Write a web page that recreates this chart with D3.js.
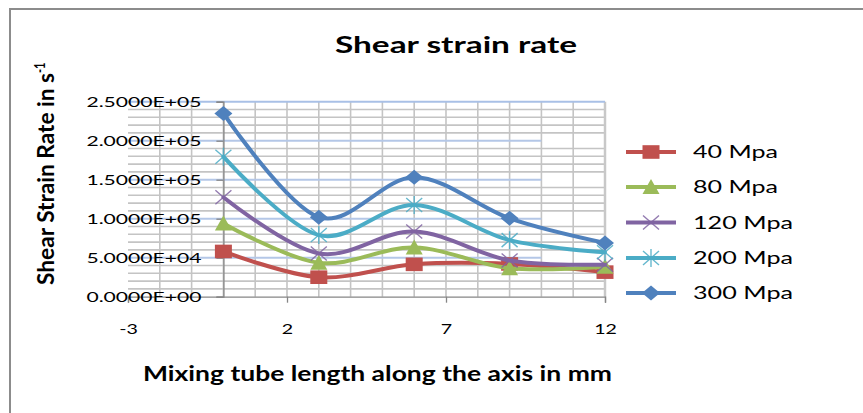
<!DOCTYPE html>
<html>
<head>
<meta charset="utf-8">
<script src="https://cdn.jsdelivr.net/npm/d3@7"></script>
<style>
  html, body { margin: 0; padding: 0; background: #fff; }
  svg { display: block; }
  text { font-family: Lato, "Open Sans", sans-serif; fill: #000; }
</style>
</head>
<body>
<svg id="chart" width="863" height="413"></svg>
<script>
// ---- data ----
const xPositions = [0, 3, 6, 9, 12];
const seriesNames = ["40 Mpa", "80 Mpa", "120 Mpa", "200 Mpa", "300 Mpa"];
const s40  = [58000, 25000, 41500, 42000, 31500];
const s80  = [94000, 43500, 63000, 36500, 38500];
const s120 = [127500, 55500, 83500, 46500, 41000];
const s200 = [179500, 79000, 117500, 72500, 57000];
const s300 = [235000, 102000, 153000, 100500, 69000];
const xTicks = [-3, 2, 7, 12];
const yTicks = [0, 50000, 100000, 150000, 200000, 250000];
const yTickLabels = ["0.0000E+00", "5.0000E+04", "1.0000E+05", "1.5000E+05", "2.0000E+05", "2.5000E+05"];

const seriesValues = [s40, s80, s120, s200, s300];
const colors = ["#C0504D", "#9BBB59", "#8064A2", "#4BACC6", "#4F81BD"];
const markers = ["square", "triangle", "x", "star", "diamond"];

const svg = d3.select("#chart");
const SX = 1.4; // horizontal stretch of text seen in the reference

function stretch(sel, target) {
  sel.each(function () {
    const w = this.getComputedTextLength();
    const t = target != null ? target : w * SX;
    d3.select(this).attr("textLength", t).attr("lengthAdjust", "spacingAndGlyphs");
  });
  return sel;
}

// outer frame (left and top edges visible)
svg.append("line").attr("x1", 10).attr("x2", 10).attr("y1", 9).attr("y2", 413)
  .attr("stroke", "#8c8c8c").attr("stroke-width", 2);
svg.append("line").attr("x1", 9).attr("x2", 863).attr("y1", 9).attr("y2", 9)
  .attr("stroke", "#8c8c8c").attr("stroke-width", 2);

// scales
const x = d3.scaleLinear().domain([-3, 12]).range([128, 605]);
const y = d3.scaleLinear().domain([0, 250000]).range([296.7, 101.7]);

const g = svg.append("g");

// minor horizontal gridlines every 10000
const minor = d3.range(10000, 250000, 10000).filter(v => v % 50000 !== 0);
g.selectAll(".hminor").data(minor).join("line")
  .attr("x1", x(-3)).attr("x2", x(12))
  .attr("y1", d => y(d)).attr("y2", d => y(d))
  .attr("stroke", "#c4c4c4").attr("stroke-width", 1.6);

// vertical gridlines every 1
g.selectAll(".vgrid").data(d3.range(-2, 12, 1)).join("line")
  .attr("x1", d => x(d)).attr("x2", d => x(d))
  .attr("y1", y(250000)).attr("y2", y(0))
  .attr("stroke", "#c4c4c4").attr("stroke-width", 1.6);

// right border of plot
g.append("line").attr("x1", x(12)).attr("x2", x(12)).attr("y1", y(250000)).attr("y2", y(0))
  .attr("stroke", "#c8c8c8").attr("stroke-width", 2.5);

// major horizontal gridlines (light blue), stopping at x=10 except the top one
g.selectAll(".hmajor").data([50000, 100000, 150000, 200000]).join("line")
  .attr("x1", x(-3)).attr("x2", x(10))
  .attr("y1", d => y(d)).attr("y2", d => y(d))
  .attr("stroke", "#b4c7e7").attr("stroke-width", 2);
g.append("line").attr("x1", x(-3)).attr("x2", x(12)).attr("y1", y(250000)).attr("y2", y(250000))
  .attr("stroke", "#a9c0e6").attr("stroke-width", 2);

// x axis at y = 0
const xAxis = d3.axisBottom(x).tickValues(xTicks).tickSize(6).tickFormat(d => String(d));
const xg = svg.append("g").attr("transform", `translate(0,${y(0)})`).call(xAxis);
xg.select(".domain").attr("stroke", "#868686").attr("stroke-width", 1.3);
xg.selectAll(".tick line").attr("stroke", "#868686").attr("stroke-width", 1.3);
xg.selectAll(".tick text").attr("font-size", 14).attr("fill", "#000")
  .attr("font-family", "Lato, sans-serif").attr("y", 37.5).attr("dy", 0);
stretch(xg.selectAll(".tick text"));

// y axis at x = 0
const yAxis = d3.axisLeft(y).tickValues(yTicks).tickSize(7).tickPadding(15)
  .tickFormat((d, i) => yTickLabels[i]);
const yg = svg.append("g").attr("transform", `translate(${x(0)},0)`).call(yAxis);
yg.select(".domain").attr("stroke", "#868686").attr("stroke-width", 1.3);
yg.selectAll(".tick line").attr("stroke", "#868686").attr("stroke-width", 1.3);
yg.selectAll(".tick text").attr("font-size", 14).attr("fill", "#000")
  .attr("font-family", "Lato, sans-serif");
stretch(yg.selectAll(".tick text"), 115);

// lines
const line = d3.line()
  .x((d, i) => x(xPositions[i]))
  .y(d => y(d))
  .curve(d3.curveCatmullRom.alpha(0));

function drawMarker(sel, type, color, cx, cy) {
  const w = 8.5, h = 6.8;
  if (type === "square") {
    sel.append("rect").attr("x", cx - w).attr("y", cy - h).attr("width", 2 * w).attr("height", 2 * h)
      .attr("fill", color);
  } else if (type === "triangle") {
    sel.append("path").attr("d", `M${cx},${cy - 8}L${cx + 8.5},${cy + 7}L${cx - 8.5},${cy + 7}Z`)
      .attr("fill", color);
  } else if (type === "diamond") {
    sel.append("path").attr("d", `M${cx},${cy - 7.5}L${cx + 9},${cy}L${cx},${cy + 7.5}L${cx - 9},${cy}Z`)
      .attr("fill", color);
  } else if (type === "x") {
    sel.append("path").attr("d", `M${cx - 8},${cy - 7}L${cx + 8},${cy + 7}M${cx - 8},${cy + 7}L${cx + 8},${cy - 7}`)
      .attr("stroke", color).attr("stroke-width", 1.4).attr("fill", "none").attr("opacity", 0.85);
  } else if (type === "star") {
    sel.append("path").attr("d", `M${cx - 8},${cy - 7}L${cx + 8},${cy + 7}M${cx - 8},${cy + 7}L${cx + 8},${cy - 7}M${cx},${cy - 9}L${cx},${cy + 9}`)
      .attr("stroke", color).attr("stroke-width", 1.4).attr("fill", "none").attr("opacity", 0.85);
  }
}

seriesValues.forEach((vals, si) => {
  const sg = svg.append("g");
  sg.append("path").datum(vals).attr("d", line)
    .attr("fill", "none").attr("stroke", colors[si]).attr("stroke-width", 4)
    .attr("stroke-linejoin", "round").attr("stroke-linecap", "round");
  vals.forEach((v, i) => drawMarker(sg, markers[si], colors[si], x(xPositions[i]), y(v)));
});

// legend
const legendY = [152, 187, 222.5, 258, 293];
const legendWidths = [85, 85, 100, 100, 100];
seriesNames.forEach((name, i) => {
  const lg = svg.append("g");
  lg.append("line").attr("x1", 626).attr("x2", 676).attr("y1", legendY[i]).attr("y2", legendY[i])
    .attr("stroke", colors[i]).attr("stroke-width", 4);
  drawMarker(lg, markers[i], colors[i], 651, legendY[i]);
  const t = lg.append("text").attr("x", 693).attr("y", legendY[i]).attr("dy", "0.36em")
    .attr("font-size", 17).text(name);
  stretch(t, legendWidths[i]);
});

// title
const title = svg.append("text").attr("x", 335).attr("y", 53)
  .attr("font-size", 23).attr("font-weight", "bold").text("Shear strain rate");
stretch(title, 242);

// x axis title
const xt = svg.append("text").attr("x", 143).attr("y", 381)
  .attr("font-size", 20).attr("font-weight", "bold").text("Mixing tube length along the axis in mm");
stretch(xt, 469);

// y axis title (rotated, glyphs widened like the reference)
const yt = svg.append("text").attr("transform", "translate(54,285) rotate(-90) scale(1,1.35)")
  .attr("font-size", 17).attr("font-weight", "bold");
const ytMain = yt.append("tspan").text("Shear  Strain Rate in s");
stretch(ytMain, 212);
yt.append("tspan").attr("dy", -7).attr("font-size", 11).text("-1");
</script>
</body>
</html>
